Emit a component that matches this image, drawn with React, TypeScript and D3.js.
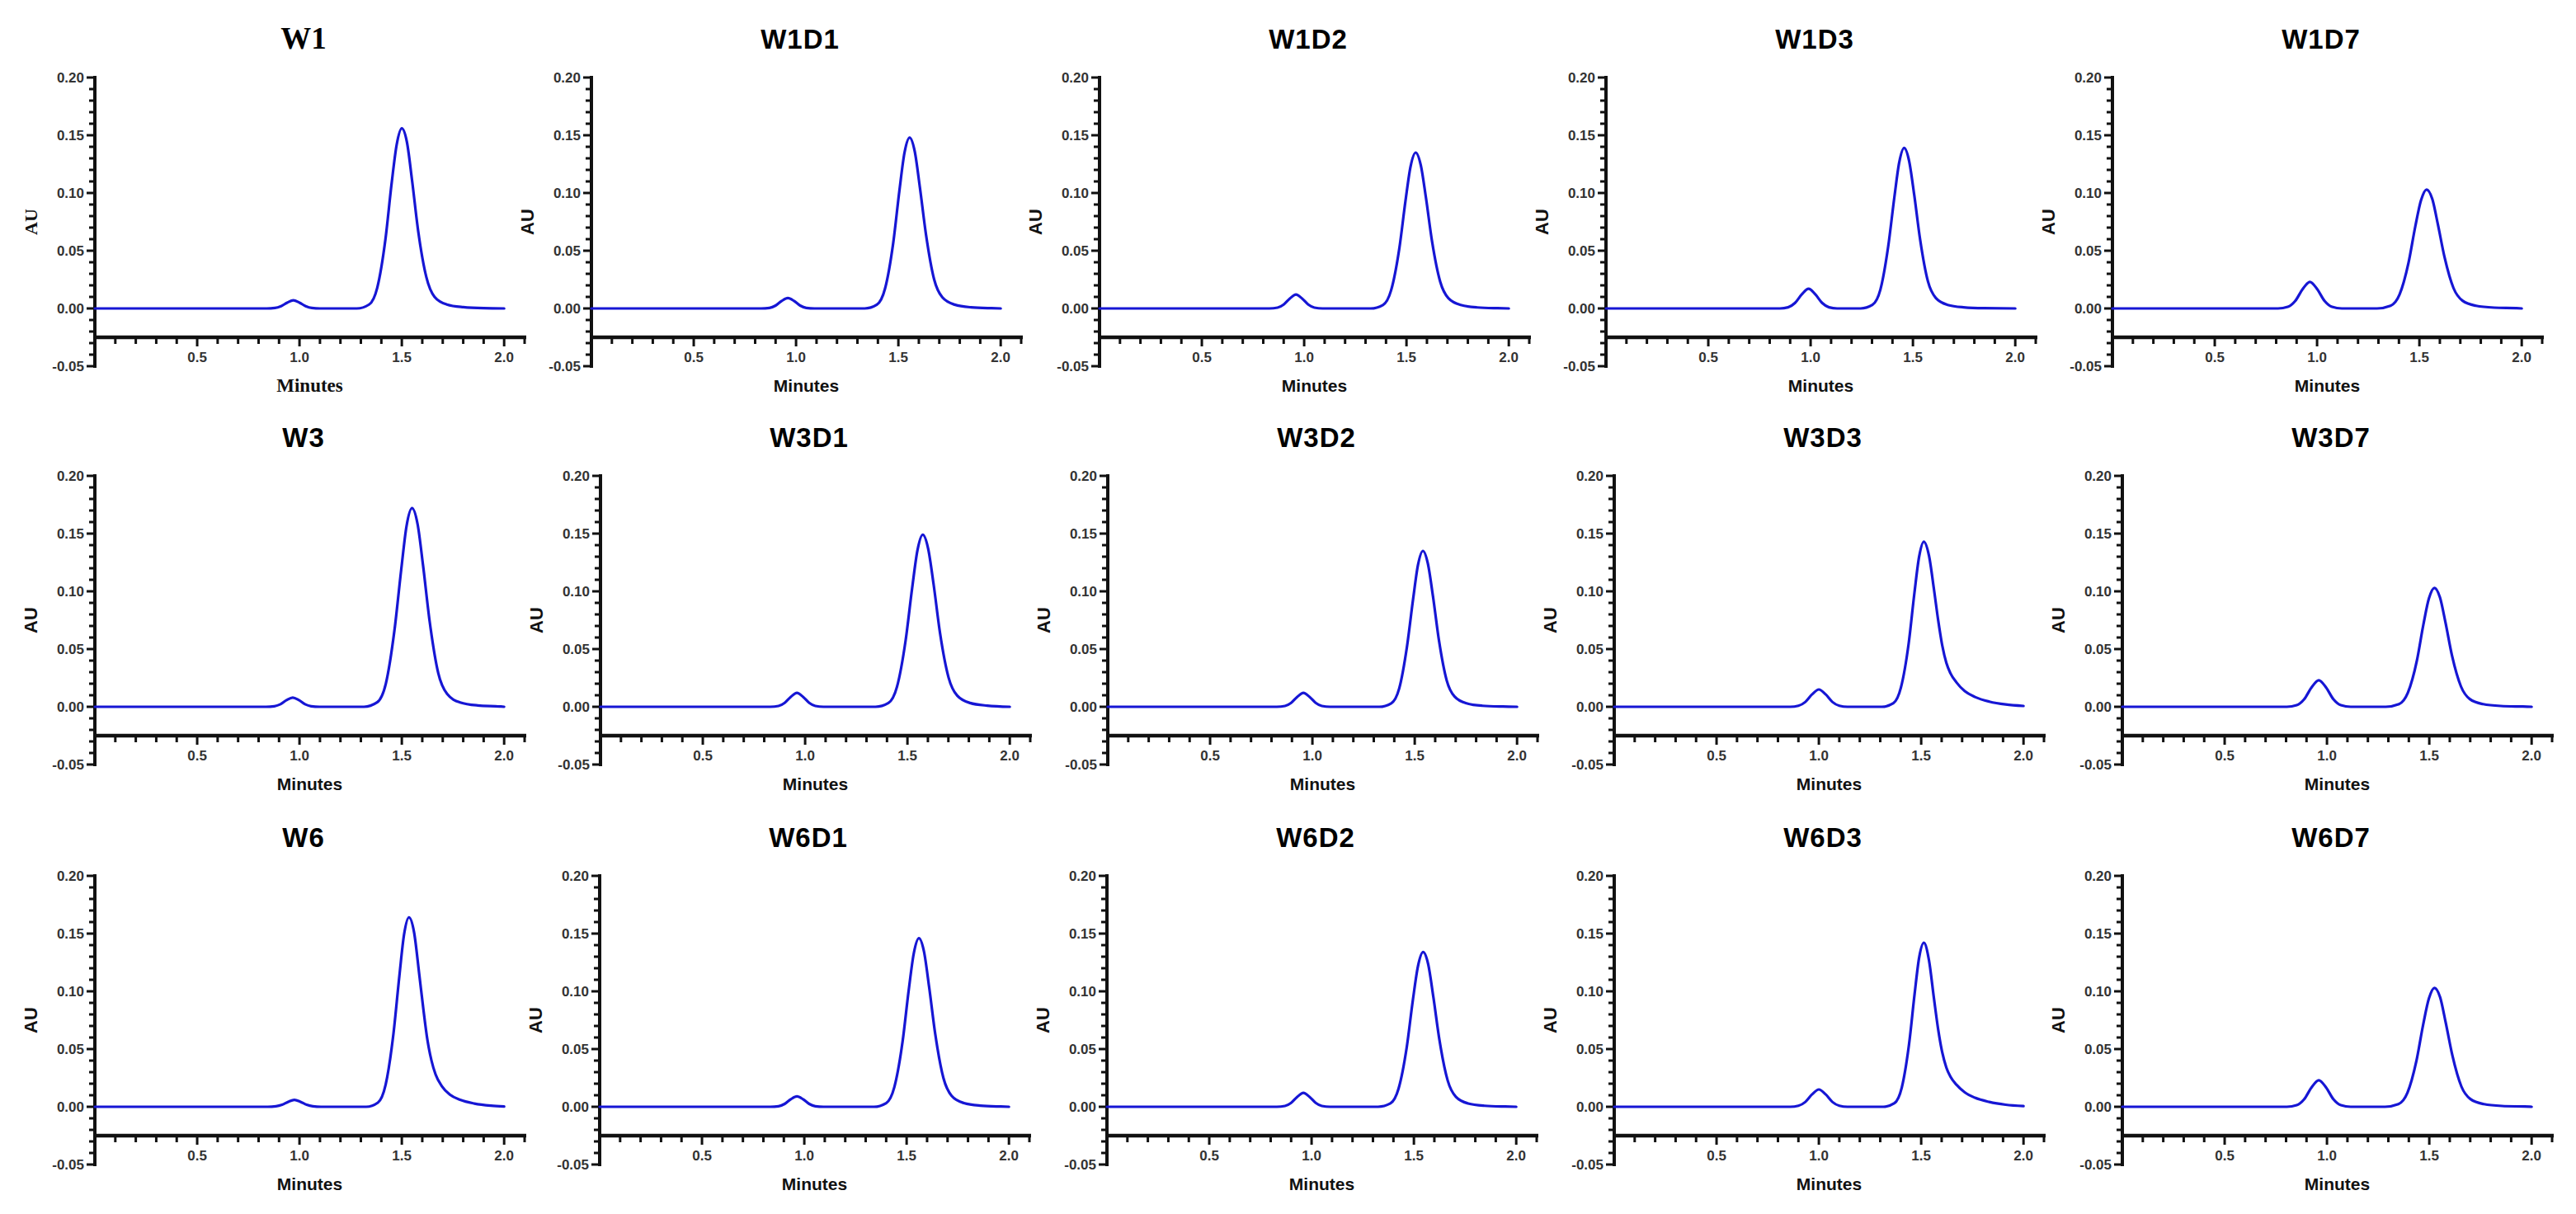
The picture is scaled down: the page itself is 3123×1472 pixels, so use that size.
import React from 'react';
import * as d3 from 'd3';

// panel titles, row by row
const panelNames = [
  'W1', 'W1D1', 'W1D2', 'W1D3', 'W1D7',
  'W3', 'W3D1', 'W3D2', 'W3D3', 'W3D7',
  'W6', 'W6D1', 'W6D2', 'W6D3', 'W6D7',
];

const yTickLabels = [0.2, 0.15, 0.1, 0.05, 0, -0.05];
const xTickLabels = [0.5, 1.0, 1.5, 2.0];

// chromatogram traces, [minutes, AU]
const W1: [number, number][] = [
  [0, 0], [0.84, 0], [0.88, 0.0004], [0.91, 0.002], [0.94, 0.005], [0.97, 0.007], [1.0, 0.005], [1.03, 0.002], [1.06, 0.0004], [1.1, 0],
  [1.28, 0], [1.34, 0.0034], [1.38, 0.018], [1.42, 0.06], [1.45, 0.108], [1.475, 0.142], [1.5, 0.156], [1.525, 0.144], [1.55, 0.111],
  [1.58, 0.067], [1.62, 0.027], [1.66, 0.01], [1.72, 0.0034], [1.8, 0.0011], [1.9, 0.0002], [2.0, 0],
];
const W1D1: [number, number][] = [
  [0, 0], [0.83, 0], [0.87, 0.0005], [0.9, 0.0025], [0.93, 0.0065], [0.96, 0.009], [0.99, 0.0065], [1.02, 0.0025], [1.05, 0.0005], [1.09, 0],
  [1.335, 0], [1.395, 0.0033], [1.435, 0.0173], [1.475, 0.057], [1.505, 0.102], [1.53, 0.135], [1.555, 0.148], [1.58, 0.136], [1.605, 0.105],
  [1.635, 0.064], [1.675, 0.025], [1.715, 0.0096], [1.775, 0.0033], [1.855, 0.001], [1.955, 0.0002], [2.0, 0],
];
const W1D2: [number, number][] = [
  [0, 0], [0.83, 0], [0.87, 0.0007], [0.9, 0.0034], [0.93, 0.0086], [0.96, 0.012], [0.99, 0.0086], [1.02, 0.0034], [1.05, 0.0007], [1.09, 0],
  [1.325, 0], [1.385, 0.003], [1.425, 0.0158], [1.465, 0.052], [1.495, 0.093], [1.52, 0.123], [1.545, 0.135], [1.57, 0.124], [1.595, 0.096],
  [1.625, 0.058], [1.665, 0.023], [1.705, 0.0088], [1.765, 0.003], [1.845, 0.0009], [1.945, 0.0002], [2.0, 0],
];
const W1D3: [number, number][] = [
  [0, 0], [0.85, 0], [0.89, 0.001], [0.924, 0.0048], [0.957, 0.0122], [0.99, 0.017], [1.023, 0.0122], [1.056, 0.0048], [1.09, 0.001], [1.13, 0],
  [1.244, 0], [1.302, 0.0031], [1.341, 0.0163], [1.379, 0.0535], [1.409, 0.096], [1.433, 0.1265], [1.457, 0.139], [1.481, 0.128], [1.506, 0.0987],
  [1.535, 0.0598], [1.573, 0.0236], [1.612, 0.009], [1.67, 0.0031], [1.747, 0.001], [1.847, 0.0002], [2.0, 0],
];
const W1D7: [number, number][] = [
  [0, 0], [0.809, 0], [0.857, 0.0014], [0.893, 0.0064], [0.929, 0.0166], [0.965, 0.023], [1.001, 0.0166], [1.037, 0.0064], [1.073, 0.0014], [1.121, 0],
  [1.293, 0], [1.359, 0.0023], [1.403, 0.012], [1.447, 0.0397], [1.48, 0.0711], [1.508, 0.0937], [1.535, 0.103], [1.563, 0.0948], [1.59, 0.0731],
  [1.623, 0.0443], [1.667, 0.0175], [1.711, 0.0067], [1.777, 0.0023], [1.865, 0.0007], [1.975, 0.0002], [2.0, 0],
];
const W3: [number, number][] = [
  [0, 0], [0.837, 0], [0.877, 0.0005], [0.907, 0.0022], [0.937, 0.0058], [0.967, 0.008], [0.997, 0.0058], [1.027, 0.0022], [1.057, 0.0005], [1.097, 0],
  [1.315, 0], [1.379, 0.0038], [1.422, 0.0201], [1.464, 0.0662], [1.497, 0.1187], [1.523, 0.1565], [1.55, 0.172], [1.577, 0.1582], [1.604, 0.1221],
  [1.636, 0.074], [1.678, 0.0292], [1.721, 0.0112], [1.785, 0.0038], [1.871, 0.0012], [1.978, 0.0003], [2.0, 0],
];
const W3D1: [number, number][] = [
  [0, 0], [0.83, 0], [0.87, 0.0007], [0.9, 0.0034], [0.93, 0.0086], [0.96, 0.012], [0.99, 0.0086], [1.02, 0.0034], [1.05, 0.0007], [1.09, 0],
  [1.344, 0], [1.407, 0.0033], [1.449, 0.0174], [1.491, 0.0574], [1.523, 0.1028], [1.549, 0.1356], [1.575, 0.149], [1.601, 0.1371], [1.628, 0.1058],
  [1.659, 0.0641], [1.701, 0.0253], [1.743, 0.0097], [1.806, 0.0033], [1.89, 0.001], [2.0, 0],
];
const W3D2: [number, number][] = [
  [0, 0], [0.826, 0], [0.866, 0.0007], [0.896, 0.0034], [0.926, 0.0086], [0.956, 0.012], [0.986, 0.0086], [1.016, 0.0034], [1.046, 0.0007], [1.086, 0],
  [1.327, 0], [1.385, 0.003], [1.424, 0.0158], [1.462, 0.052], [1.492, 0.0932], [1.516, 0.1229], [1.54, 0.135], [1.564, 0.1242], [1.589, 0.0959],
  [1.618, 0.058], [1.656, 0.023], [1.695, 0.0088], [1.753, 0.003], [1.83, 0.0009], [1.93, 0.0002], [2.0, 0],
];
const W3D3: [number, number][] = [
  [0, 0], [0.86, 0], [0.9, 0.0009], [0.934, 0.0042], [0.967, 0.0108], [1.0, 0.015], [1.033, 0.0108], [1.066, 0.0042], [1.1, 0.0009], [1.14, 0],
  [1.308, 0], [1.364, 0.0031], [1.401, 0.0167], [1.439, 0.0551], [1.467, 0.0987], [1.49, 0.1301], [1.513, 0.143], [1.538, 0.131], [1.563, 0.101],
  [1.583, 0.075], [1.603, 0.053], [1.623, 0.038], [1.643, 0.029], [1.673, 0.021], [1.713, 0.0135], [1.763, 0.0085], [1.833, 0.0045],
  [1.913, 0.002], [2.0, 0.0007],
];
const W3D7: [number, number][] = [
  [0, 0], [0.804, 0], [0.852, 0.0014], [0.888, 0.0064], [0.924, 0.0166], [0.96, 0.023], [0.996, 0.0166], [1.032, 0.0064], [1.068, 0.0014], [1.116, 0],
  [1.287, 0], [1.352, 0.0023], [1.395, 0.012], [1.439, 0.0397], [1.471, 0.0711], [1.498, 0.0937], [1.525, 0.103], [1.552, 0.0948], [1.579, 0.0731],
  [1.611, 0.0443], [1.655, 0.0175], [1.698, 0.0067], [1.763, 0.0023], [1.849, 0.0007], [1.957, 0.0002], [2.0, 0],
];
const W6: [number, number][] = [
  [0, 0], [0.845, 0], [0.885, 0.0004], [0.915, 0.0017], [0.945, 0.0043], [0.975, 0.006], [1.005, 0.0043], [1.035, 0.0017], [1.065, 0.0004], [1.105, 0],
  [1.326, 0], [1.383, 0.0036], [1.421, 0.0192], [1.459, 0.0631], [1.488, 0.1132], [1.511, 0.1492], [1.535, 0.164], [1.56, 0.151], [1.585, 0.115],
  [1.605, 0.085], [1.625, 0.058], [1.645, 0.04], [1.665, 0.028], [1.695, 0.018], [1.735, 0.0105], [1.785, 0.006], [1.855, 0.0028],
  [1.935, 0.001], [2.0, 0.0003],
];
const W6D1: [number, number][] = [
  [0, 0], [0.834, 0], [0.874, 0.0005], [0.904, 0.0025], [0.934, 0.0065], [0.964, 0.009], [0.994, 0.0065], [1.024, 0.0025], [1.054, 0.0005], [1.094, 0],
  [1.34, 0], [1.4, 0.0032], [1.44, 0.0171], [1.48, 0.0562], [1.51, 0.1007], [1.535, 0.1329], [1.56, 0.146], [1.585, 0.1343], [1.61, 0.1037],
  [1.64, 0.0628], [1.68, 0.0248], [1.72, 0.0095], [1.78, 0.0032], [1.86, 0.001], [1.96, 0.0002], [2.0, 0],
];
const W6D2: [number, number][] = [
  [0, 0], [0.83, 0], [0.87, 0.0007], [0.9, 0.0034], [0.93, 0.0086], [0.96, 0.012], [0.99, 0.0086], [1.02, 0.0034], [1.05, 0.0007], [1.09, 0],
  [1.325, 0], [1.385, 0.0029], [1.425, 0.0157], [1.465, 0.0516], [1.495, 0.0925], [1.52, 0.1219], [1.545, 0.134], [1.57, 0.1233], [1.595, 0.0951],
  [1.625, 0.0576], [1.665, 0.0228], [1.705, 0.0087], [1.765, 0.0029], [1.845, 0.0009], [1.945, 0.0002], [2.0, 0],
];
const W6D3: [number, number][] = [
  [0, 0], [0.86, 0], [0.9, 0.0009], [0.934, 0.0042], [0.967, 0.0108], [1.0, 0.015], [1.033, 0.0108], [1.066, 0.0042], [1.1, 0.0009], [1.14, 0],
  [1.315, 0], [1.369, 0.0031], [1.405, 0.0166], [1.441, 0.0547], [1.468, 0.098], [1.49, 0.1292], [1.513, 0.142], [1.538, 0.127], [1.563, 0.093],
  [1.583, 0.067], [1.603, 0.047], [1.623, 0.034], [1.643, 0.026], [1.673, 0.019], [1.713, 0.0125], [1.763, 0.0078], [1.833, 0.0042],
  [1.913, 0.0018], [2.0, 0.0006],
];
const W6D7: [number, number][] = [
  [0, 0], [0.804, 0], [0.852, 0.0014], [0.888, 0.0064], [0.924, 0.0166], [0.96, 0.023], [0.996, 0.0166], [1.032, 0.0064], [1.068, 0.0014], [1.116, 0],
  [1.283, 0], [1.349, 0.0023], [1.393, 0.012], [1.437, 0.0397], [1.47, 0.0711], [1.498, 0.0937], [1.525, 0.103], [1.553, 0.0948], [1.58, 0.0731],
  [1.613, 0.0443], [1.657, 0.0175], [1.701, 0.0067], [1.767, 0.0023], [1.855, 0.0007], [1.965, 0.0002], [2.0, 0],
];

const traces = [W1, W1D1, W1D2, W1D3, W1D7, W3, W3D1, W3D2, W3D3, W3D7, W6, W6D1, W6D2, W6D3, W6D7];

const WIDTH = 3123;
const HEIGHT = 1472;
const rowTop = [94, 577, 1062];
const colLeft = [
  [115, 717, 1333, 1947, 2561],
  [115, 728, 1343, 1957, 2573],
  [115, 727, 1342, 1957, 2573],
];
const plotW = 521; // 0 .. 2.1 min
const plotH = 350; // -0.05 .. 0.20 AU

const SANS = '"Liberation Sans", Arial, sans-serif';
const SERIF = '"Liberation Serif", "Times New Roman", serif';
const fmtY = (v: number) => d3.format('.2f')(v).replace('\u2212', '-');
const fmtX = d3.format('.1f');

const Panel = ({ name, data, x0, y0, serif }: any) => {
  const x = d3.scaleLinear().domain([0, 2.1]).range([x0, x0 + plotW]);
  const y = d3.scaleLinear().domain([-0.05, 0.2]).range([y0 + plotH, y0]);
  const line = d3.line<[number, number]>()
    .x(d => x(d[0]))
    .y(d => y(d[1]))
    .curve(d3.curveMonotoneX);

  const yMinor = d3.range(-5, 21).map(i => i / 100);
  const xMinor = d3.range(1, 22).map(i => i / 10);
  const axisY = y(-0.025);
  const titleFont = serif ? SERIF : SANS;

  return (
    <g>
      <text x={x(1.02)} y={y0 - 35} textAnchor="middle" fontFamily={titleFont}
        fontWeight="bold" fontSize={serif ? 37 : 33} letterSpacing={serif ? 0 : 1}>{name}</text>

      {/* y axis */}
      <line x1={x0} x2={x0} y1={y(0.2) - 2} y2={y(-0.05) + 2} stroke="#111" strokeWidth={4} />
      {yMinor.map(v => (
        <line key={v} x1={x0 - (Math.round(v * 100) % 5 === 0 ? 10 : 7)} x2={x0}
          y1={y(v)} y2={y(v)} stroke="#111" strokeWidth={3} />
      ))}
      {yTickLabels.map(v => (
        <text key={v} x={x0 - 13} y={y(v) + 6} textAnchor="end" fontFamily={SANS}
          fontWeight="bold" fontSize={17} fill="#333">{fmtY(v)}</text>
      ))}
      <text transform={`translate(${x0 - 70},${y(0.075)}) rotate(-90)`} textAnchor="middle"
        fontFamily={titleFont} fontWeight="bold" fontSize={22} fill="#111">AU</text>

      {/* x axis, offset below zero */}
      <line x1={x0} x2={x(2.1) + 2} y1={axisY} y2={axisY} stroke="#111" strokeWidth={4.5} />
      {xMinor.map(v => (
        <line key={v} x1={x(v)} x2={x(v)} y1={axisY}
          y2={axisY + (Math.round(v * 10) % 5 === 0 ? 11 : 8)} stroke="#111" strokeWidth={3} />
      ))}
      {xTickLabels.map(v => (
        <text key={v} x={x(v)} y={y0 + 345} textAnchor="middle" fontFamily={SANS}
          fontWeight="bold" fontSize={17} fill="#333">{fmtX(v)}</text>
      ))}
      <text x={x(1.05)} y={y0 + 381} textAnchor="middle" fontFamily={titleFont}
        fontWeight="bold" fontSize={serif ? 23 : 21} fill="#111">Minutes</text>

      <path d={line(data) || ''} fill="none" stroke="#1616d4" strokeWidth={3.2}
        strokeLinejoin="round" strokeLinecap="round" />
    </g>
  );
};

export default function App() {
  return (
    <div style={{ position: 'absolute', left: 0, top: 0, background: '#fff' }}>
      <svg width={WIDTH} height={HEIGHT} style={{ display: 'block' }}>
        <rect width={WIDTH} height={HEIGHT} fill="#fff" />
        {panelNames.map((name, i) => {
          const r = Math.floor(i / 5);
          const c = i % 5;
          return (
            <Panel key={name} name={name} data={traces[i]} x0={colLeft[r][c]} y0={rowTop[r]} serif={i === 0} />
          );
        })}
      </svg>
    </div>
  );
}
